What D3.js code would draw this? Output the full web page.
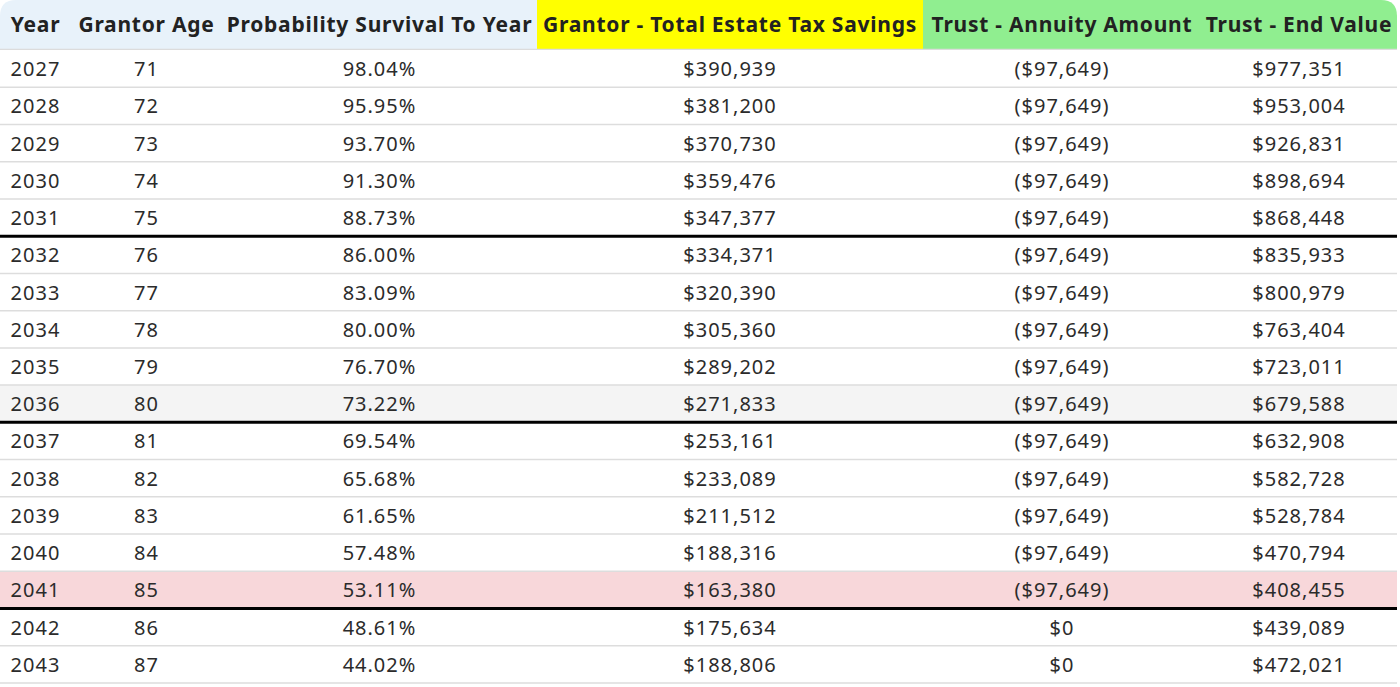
<!DOCTYPE html>
<html>
<head>
<meta charset="utf-8">
<script src="https://cdn.jsdelivr.net/npm/d3@7"></script>
<style>
  html, body { margin: 0; padding: 0; background: #fff; }
  svg { display: block; }
</style>
</head>
<body>
<svg id="chart" width="1400" height="687"></svg>
<script>
// ---- data ----
const headers = ["Year", "Grantor Age", "Probability Survival To Year", "Grantor - Total Estate Tax Savings", "Trust - Annuity Amount", "Trust - End Value"];
const years = [2027, 2028, 2029, 2030, 2031, 2032, 2033, 2034, 2035, 2036, 2037, 2038, 2039, 2040, 2041, 2042, 2043];
const ages = [71, 72, 73, 74, 75, 76, 77, 78, 79, 80, 81, 82, 83, 84, 85, 86, 87];
const survival = [98.04, 95.95, 93.70, 91.30, 88.73, 86.00, 83.09, 80.00, 76.70, 73.22, 69.54, 65.68, 61.65, 57.48, 53.11, 48.61, 44.02];
const taxSavings = [390939, 381200, 370730, 359476, 347377, 334371, 320390, 305360, 289202, 271833, 253161, 233089, 211512, 188316, 163380, 175634, 188806];
const annuity = [-97649, -97649, -97649, -97649, -97649, -97649, -97649, -97649, -97649, -97649, -97649, -97649, -97649, -97649, -97649, 0, 0];
const endValue = [977351, 953004, 926831, 898694, 868448, 835933, 800979, 763404, 723011, 679588, 632908, 582728, 528784, 470794, 408455, 439089, 472021];
const thickAfterYears = [2031, 2036, 2041];
const greyYear = 2036;
const pinkYear = 2041;

// ---- layout ----
const tableRight = 1397;
const colWidths = [71, 151, 315, 386, 278, 196];
const headerH = 50, tableBottom = 683;
const headerFill = ["#e8f2fa", "#e8f2fa", "#e8f2fa", "#ffff00", "#90ee90", "#90ee90"];
const font = "'Noto Sans', 'Open Sans', sans-serif";

const edges = [0, ...d3.cumsum(colWidths)];
const colX = d3.scaleOrdinal().domain(d3.range(headers.length)).range(edges.slice(0, -1));
const colW = i => colWidths[i];
const y = d3.scaleBand().domain(years).range([headerH, tableBottom]).paddingInner(0).paddingOuter(0);

const fmtMoney = v => v < 0 ? "(" + d3.format("$,.0f")(-v) + ")" : d3.format("$,.0f")(v);
const fmtPct = v => d3.format(".2f")(v) + "%";

const rows = years.map((yr, i) => [
  String(yr), String(ages[i]), fmtPct(survival[i]), fmtMoney(taxSavings[i]), fmtMoney(annuity[i]), fmtMoney(endValue[i])
]);

const svg = d3.select("#chart");

// header background with rounded top corners
const r = 16;
const hdr = svg.append("g");
headers.forEach((h, i) => {
  hdr.append("rect")
    .attr("x", colX(i)).attr("y", 0)
    .attr("width", colW(i) + 0.5).attr("height", headerH)
    .attr("fill", headerFill[i]);
});
const clip = svg.append("defs").append("clipPath").attr("id", "hclip");
clip.append("path").attr("d",
  `M0,${headerH} L0,${r} Q0,0 ${r},0 L${tableRight - r},0 Q${tableRight},0 ${tableRight},${r} L${tableRight},${headerH} Z`);
hdr.attr("clip-path", "url(#hclip)");

hdr.selectAll("text.h").data(headers).join("text")
  .attr("class", "h")
  .attr("x", (d, i) => colX(i) + colW(i) / 2)
  .attr("y", headerH / 2 + 7)
  .attr("text-anchor", "middle")
  .attr("font-family", font)
  .attr("font-weight", 700)
  .attr("font-size", 21)
  .attr("letter-spacing", 0.75)
  .attr("fill", "#222")
  .text(d => d);

svg.append("line")
  .attr("x1", 0).attr("x2", tableRight)
  .attr("y1", headerH - 0.5).attr("y2", headerH - 0.5)
  .attr("stroke", "#dcdcdc").attr("stroke-width", 1.5);

// row backgrounds
const body = svg.append("g");
body.selectAll("rect.bg").data(years).join("rect")
  .attr("class", "bg")
  .attr("x", 0).attr("width", tableRight)
  .attr("y", d => y(d)).attr("height", y.bandwidth())
  .attr("fill", d => d === greyYear ? "#f4f4f4" : d === pinkYear ? "#f8d7da" : "#ffffff");

// row separators
body.selectAll("line.sep").data(years).join("line")
  .attr("class", "sep")
  .attr("x1", 0).attr("x2", tableRight)
  .attr("y1", d => y(d) + y.bandwidth())
  .attr("y2", d => y(d) + y.bandwidth())
  .attr("stroke", d => thickAfterYears.includes(d) ? "#000" : "#dddddd")
  .attr("stroke-width", d => thickAfterYears.includes(d) ? 3 : 1.5);

// cells
const rowG = body.selectAll("g.row").data(rows).join("g")
  .attr("class", "row")
  .attr("transform", (d, i) => `translate(0,${y(years[i]) + y.bandwidth() / 2 + 7.5})`);
rowG.selectAll("text").data(d => d).join("text")
  .attr("x", (d, i) => colX(i) + colW(i) / 2)
  .attr("text-anchor", "middle")
  .attr("font-family", font)
  .attr("font-size", 20)
  .attr("letter-spacing", 1)
  .attr("fill", "#2b2b2b")
  .text(d => d);
</script>
</body>
</html>
